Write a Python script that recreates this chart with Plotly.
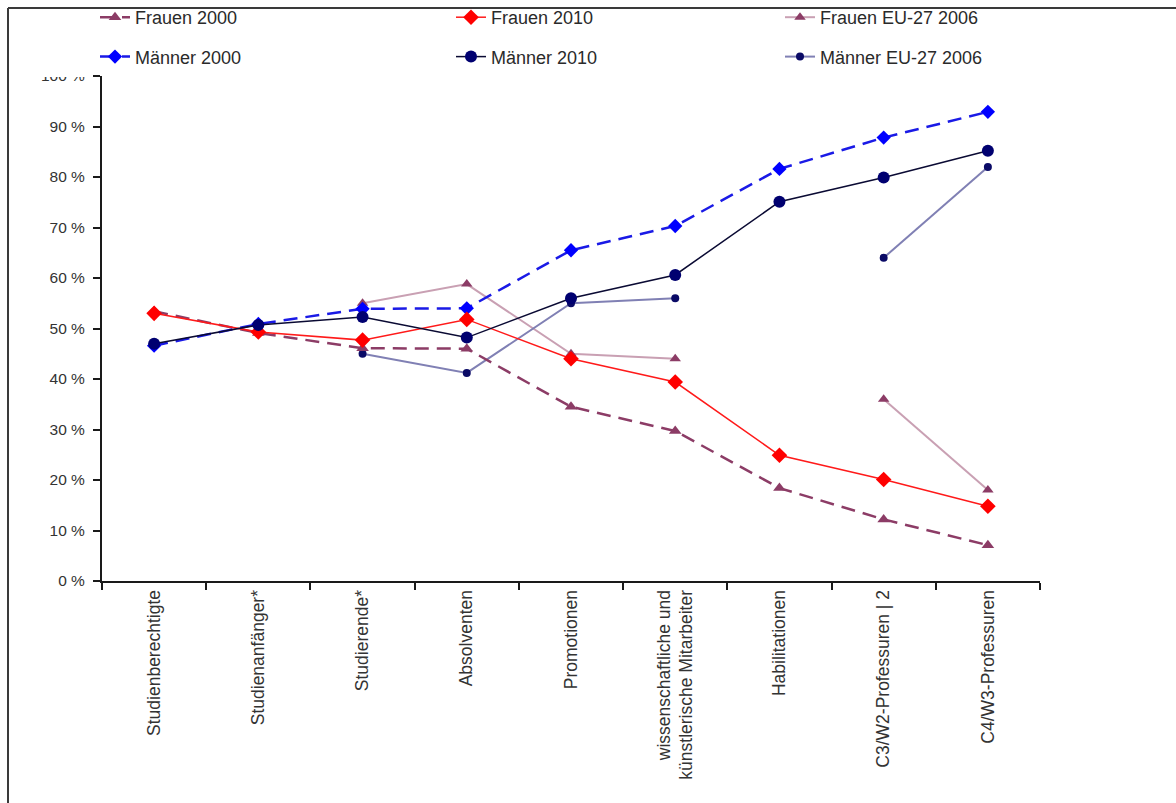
import plotly.graph_objects as go

# Categories along the academic career path
categories = [
    "Studienberechtigte",
    "Studienanfänger*",
    "Studierende*",
    "Absolventen",
    "Promotionen",
    "wissenschaftliche und<br>künstlerische Mitarbeiter",
    "Habilitationen",
    "C3/W2-Professuren | 2",
    "C4/W3-Professuren",
]

# Shares in percent
frauen_2000 = [53.4, 49.1, 46.1, 46.0, 34.5, 29.7, 18.4, 12.2, 7.1]
maenner_2000 = [46.6, 50.9, 53.9, 54.0, 65.5, 70.3, 81.6, 87.8, 92.9]
frauen_2010 = [53.0, 49.3, 47.7, 51.8, 44.0, 39.4, 24.9, 20.1, 14.8]
maenner_2010 = [47.0, 50.7, 52.3, 48.2, 56.0, 60.6, 75.1, 79.9, 85.2]
frauen_eu_2006 = [None, None, 55.0, 58.8, 45.0, 44.0, None, 36.0, 18.0]
maenner_eu_2006 = [None, None, 45.0, 41.2, 55.0, 56.0, None, 64.0, 82.0]

y_ticks = [0, 10, 20, 30, 40, 50, 60, 70, 80, 90, 100]

FONT = "Arial, Liberation Sans, sans-serif"
W, H = 1176, 803
M_L, M_R, M_T, M_B = 102, 136, 76, 222

fig = go.Figure()


def add(name, values, line, marker, legend, group):
    fig.add_trace(go.Scatter(
        x=categories, y=values, name=name, mode="lines+markers",
        line=line, marker=marker, connectgaps=False,
        legend=legend, legendgroup=group,
    ))


add("Frauen EU-27 2006", frauen_eu_2006,
    dict(color="#c9a0b3", width=2),
    dict(symbol="triangle-up", size=10, color="#8c3c66"), "legend3", "g5")
add("Männer EU-27 2006", maenner_eu_2006,
    dict(color="#8080b4", width=2),
    dict(symbol="circle", size=8, color="#0a0a66"), "legend3", "g6")
add("Frauen 2000", frauen_2000,
    dict(color="#8c3c66", width=2.5, dash="14px,8px"),
    dict(symbol="triangle-up", size=11, color="#8c3c66"), "legend", "g1")
add("Männer 2000", maenner_2000,
    dict(color="#1a1ae6", width=2.5, dash="14px,8px"),
    dict(symbol="diamond", size=11, color="#0000ff"), "legend", "g2")
add("Frauen 2010", frauen_2010,
    dict(color="#ff1a1a", width=1.5),
    dict(symbol="diamond", size=12, color="#ff0000"), "legend2", "g3")
add("Männer 2010", maenner_2010,
    dict(color="#0a0a33", width=1.5),
    dict(symbol="circle", size=12, color="#000070"), "legend2", "g4")

plot_w = W - M_L - M_R
plot_h = H - M_T - M_B


def px_x(p):
    return (p - M_L) / plot_w


def px_y(p):
    return (H - M_B - p) / plot_h


# Frame around the figure (top and left edges)
frame = dict(color="#3a3a3a", width=2)
fig.add_shape(type="line", xref="paper", yref="paper",
              x0=px_x(8), x1=px_x(W + 5), y0=px_y(8), y1=px_y(8), line=frame)
fig.add_shape(type="line", xref="paper", yref="paper",
              x0=px_x(8), x1=px_x(8), y0=px_y(8), y1=px_y(H + 5), line=frame)

# White legend backdrop that overlaps the top of the "100 %" label
fig.add_annotation(
    xref="paper", yref="paper", x=px_x(12), y=px_y(10),
    xanchor="left", yanchor="top", text=" ", showarrow=False,
    width=80, height=67, bgcolor="white", borderpad=0, borderwidth=0,
)

legend_common = dict(
    yanchor="top", xanchor="left", orientation="v",
    bgcolor="rgba(0,0,0,0)", borderwidth=0, tracegroupgap=13,
    traceorder="grouped",
    font=dict(family=FONT, size=18, color="#2a2a2a"),
)

fig.update_layout(
    width=W, height=H,
    margin=dict(l=M_L, r=M_R, t=M_T, b=M_B, autoexpand=False),
    paper_bgcolor="white", plot_bgcolor="white",
    font=dict(family=FONT, color="#333333"),
    showlegend=True,
    legend=dict(x=px_x(95), y=px_y(-1), **legend_common),
    legend2=dict(x=px_x(451), y=px_y(-1), **legend_common),
    legend3=dict(x=px_x(780), y=px_y(-1), **legend_common),
    xaxis=dict(
        type="category", categoryorder="array", categoryarray=categories,
        range=[-0.5, len(categories) - 0.5],
        showline=True, linecolor="#1a1a1a", linewidth=2,
        ticks="outside", tickson="boundaries", ticklen=7, tickwidth=2,
        tickcolor="#1a1a1a", tickangle=-90,
        tickfont=dict(family=FONT, size=17.5, color="#333333"),
        showgrid=False, zeroline=False,
    ),
    yaxis=dict(
        range=[0, 100], tickvals=y_ticks, ticktext=[f"{v} %" for v in y_ticks],
        showline=True, linecolor="#1a1a1a", linewidth=2,
        ticks="outside", ticklen=7, tickwidth=2, tickcolor="#1a1a1a",
        tickfont=dict(family=FONT, size=15.5, color="#333333"),
        ticklabelstandoff=5,
        showgrid=False, zeroline=False,
    ),
)

fig.write_html("out.html")
